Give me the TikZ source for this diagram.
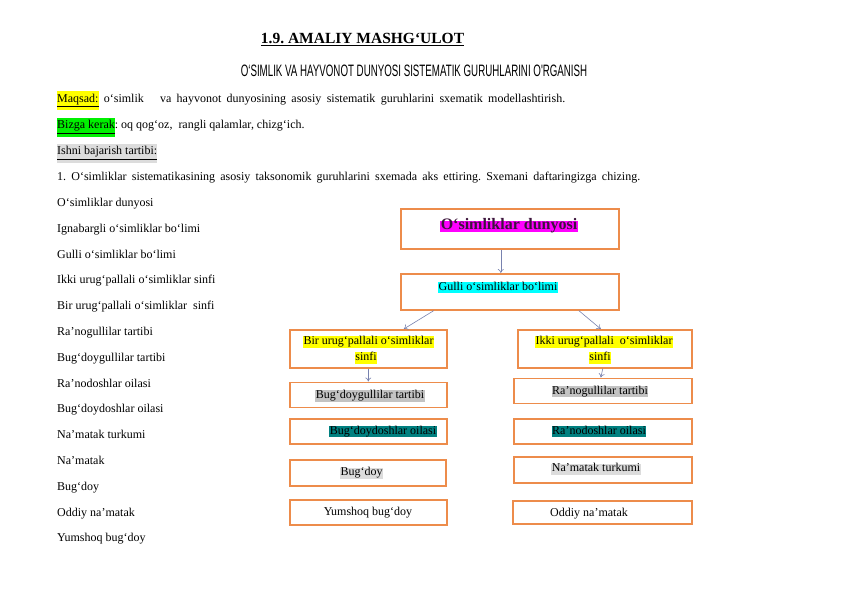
\documentclass[tikz,border=0pt]{standalone}
\usepackage{fontspec}
\setmainfont{Liberation Serif}
\newfontfamily\condfont[FakeStretch=0.59]{Liberation Sans}
\usetikzlibrary{arrows.meta}
\definecolor{boxorange}{RGB}{237,140,75}
\definecolor{arrowcol}{RGB}{120,130,175}
\definecolor{hlyellow}{RGB}{255,255,0}
\definecolor{hlgreen}{RGB}{0,240,0}
\definecolor{hlgray}{RGB}{195,195,195}
\definecolor{hllight}{RGB}{220,220,220}
\definecolor{hlteal}{RGB}{0,128,128}
\definecolor{hlcyan}{RGB}{0,255,255}
\definecolor{hlmagenta}{RGB}{255,0,255}
\definecolor{darkpurple}{RGB}{60,20,60}
\frenchspacing
\begin{document}
\begin{tikzpicture}[x=1pt,y=-1pt,
  every node/.style={font=\fontsize{12}{14}\selectfont, inner sep=0pt},
  box/.style={draw=boxorange, line width=1.6pt, rectangle, anchor=north west, minimum width=#1},
  box/.default=157pt,
  hl/.style={fill=#1, inner xsep=0.6pt, inner ysep=1pt, text height=0.72em, text depth=0.22em},
  lefttxt/.style={anchor=base west},
  arr/.style={draw=arrowcol, line width=0.6pt, -{To[length=4pt,width=6pt]}}
]
\useasboundingbox[fill=white] (0,0) rectangle (842,596);

% headings
\node[anchor=base, font=\fontsize{15.5}{17}\selectfont\bfseries] (title) at (362.5,43.5) {\underline{1.9. AMALIY MASHG‘ULOT}};
\node[anchor=base, font=\fontsize{16.5}{18}\condfont] (subtitle) at (414,77) {O‘SIMLIK VA HAYVONOT DUNYOSI SISTEMATIK GURUHLARINI O'RGANISH};

\node[lefttxt] (maqsad) at (57,102.5) {\makebox[508pt][s]{\colorbox{hlyellow}{\hspace*{-3pt}\underline{Maqsad:}\hspace*{-3pt}} o‘simlik \ \ va hayvonot dunyosining asosiy sistematik guruhlarini sxematik modellashtirish.}};
\node[lefttxt] (bizga) at (57,129) {\colorbox{hlgreen}{\hspace*{-3pt}\underline{Bizga kerak}\hspace*{-3pt}}: oq qog‘oz, \ rangli qalamlar, chizg‘ich.};
\node[lefttxt] (ishni) at (57,155) {\colorbox{hllight}{\hspace*{-3pt}\underline{Ishni bajarish tartibi:}\hspace*{-3pt}}};
\node[lefttxt] (task) at (57,180) {\makebox[583pt][s]{1. O‘simliklar sistematikasining asosiy taksonomik guruhlarini sxemada aks ettiring. Sxemani daftaringizga chizing.}};

% left list
\node[lefttxt] (l1) at (57,206.5) {O‘simliklar dunyosi};
\node[lefttxt] (l2) at (57,232.3) {Ignabargli o‘simliklar bo‘limi};
\node[lefttxt] (l3) at (57,258.1) {Gulli o‘simliklar bo‘limi};
\node[lefttxt] (l4) at (57,283.9) {Ikki urug‘pallali o‘simliklar sinfi};
\node[lefttxt] (l5) at (57,309.7) {Bir urug‘pallali o‘simliklar \ sinfi};
\node[lefttxt] (l6) at (57,335.5) {Ra’nogullilar tartibi};
\node[lefttxt] (l7) at (57,361.3) {Bug‘doygullilar tartibi};
\node[lefttxt] (l8) at (57,387.1) {Ra’nodoshlar oilasi};
\node[lefttxt] (l9) at (57,412.9) {Bug‘doydoshlar oilasi};
\node[lefttxt] (l10) at (57,438.7) {Na’matak turkumi};
\node[lefttxt] (l11) at (57,464.5) {Na’matak};
\node[lefttxt] (l12) at (57,490.3) {Bug‘doy};
\node[lefttxt] (l13) at (57,516.1) {Oddiy na’matak};
\node[lefttxt] (l14) at (57,541.9) {Yumshoq bug‘doy};

% boxes
\node[box=218pt, minimum height=40pt] (A) at (400,208) {};
\node[box=218pt, minimum height=36pt] (B) at (400,273) {};
\node[box=157pt, minimum height=38pt] (C1) at (289,329) {};
\node[box=174pt, minimum height=38pt] (C2) at (517,329) {};
\node[box=157pt, minimum height=25pt] (D1) at (289,381.5) {};
\node[box=178pt, minimum height=25pt] (D2) at (513,377.5) {};
\node[box=157pt, minimum height=25pt] (E1) at (289,418) {};
\node[box=178pt, minimum height=25pt] (E2) at (513,418) {};
\node[box=156pt, minimum height=26pt] (F1) at (289,459) {};
\node[box=178pt, minimum height=26pt] (F2) at (513,456) {};
\node[box=157pt, minimum height=25pt] (G1) at (289,499) {};
\node[box=179pt, minimum height=23pt] (G2) at (512,500) {};

% box texts
\node[hl=hlmagenta, text=darkpurple, font=\fontsize{16}{18}\selectfont\bfseries] (At) at (509,226.5) {O‘simliklar dunyosi};
\node[hl=hlcyan] (Bt) at (498,287.5) {Gulli o‘simliklar bo‘limi};
\node[hl=hlyellow] (C1a) at (368.5,342) {Bir urug‘pallali o‘simliklar};
\node[hl=hlyellow] (C1b) at (366,358) {sinfi};
\node[hl=hlyellow] (C2a) at (604,342) {Ikki urug‘pallali \ o‘simliklar};
\node[hl=hlyellow] (C2b) at (600,358) {sinfi};
\node[hl=hlgray] (D1t) at (370,395.8) {Bug‘doygullilar tartibi};
\node[hl=hlgray] (D2t) at (600,391.5) {Ra’nogullilar tartibi};
\node[hl=hlteal] (E1t) at (383,431.5) {Bug‘doydoshlar oilasi};
\node[hl=hlteal] (E2t) at (599,431.5) {Ra’nodoshlar oilasi};
\node[hl=hllight] (F1t) at (361.5,473.2) {Bug‘doy};
\node[hl=hllight] (F2t) at (596,469.2) {Na’matak turkumi};
\node (G1t) at (368,512.5) {Yumshoq bug‘doy};
\node (G2t) at (589,513.2) {Oddiy na’matak};

% connectors
\draw[arr] ([xshift=-9pt]A.south) -- ([xshift=-9pt]B.north);
\draw[arr] ([xshift=-76pt]B.south) -- ([xshift=35.5pt]C1.north);
\draw[arr] ([xshift=69pt]B.south) -- ([xshift=-4pt]C2.north);
\draw[arr] (C1.south) -- (D1.north);
\draw[arr] ([xshift=-2pt]C2.south) -- ([xshift=-2pt]D2.north);
\end{tikzpicture}
\end{document}
